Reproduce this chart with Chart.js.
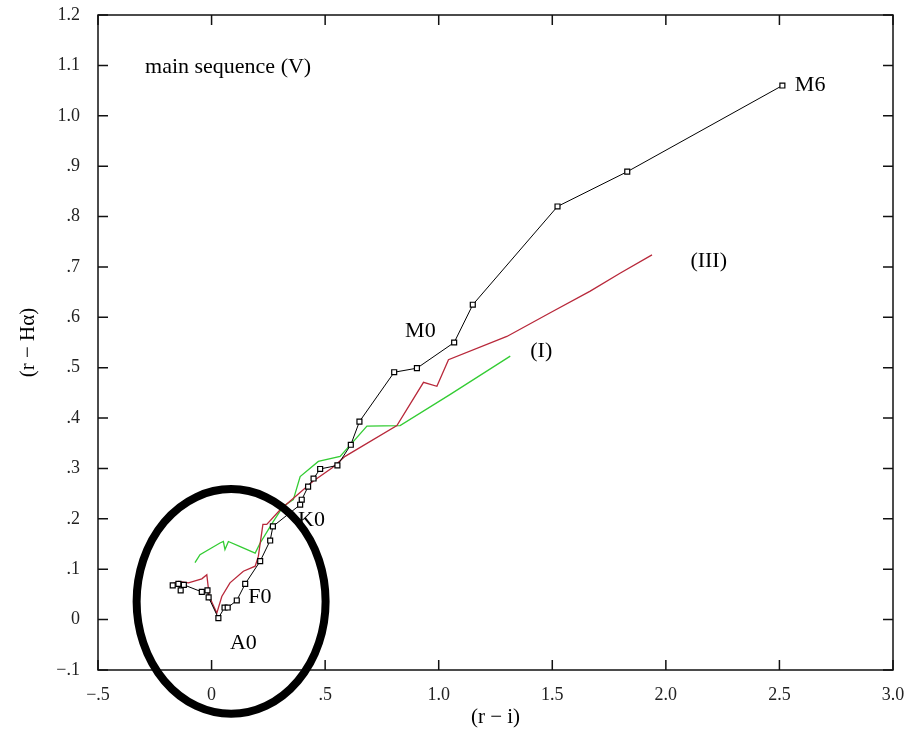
<html>
<head>
<meta charset="utf-8">
<script src="https://cdn.jsdelivr.net/npm/chart.js@4.4.1/dist/chart.umd.min.js"></script>
<title>main sequence (V)</title>
<style>
  body { margin: 0; background: #fff; }
  #wrap { width: 915px; height: 734px; }
</style>
</head>
<body>
<div id="wrap"><canvas id="chart" width="915" height="734"></canvas></div>
<script>
// main sequence (V), black with square markers
var msX = [-0.171, -0.146, -0.136, -0.122, -0.043, -0.018, -0.013, 0.030, 0.057, 0.071, 0.111, 0.148, 0.214, 0.258, 0.270, 0.390, 0.397, 0.425, 0.449, 0.478, 0.554, 0.613, 0.651, 0.804, 0.904, 1.068, 1.150, 1.523, 1.830, 2.513];
var msY = [0.068, 0.071, 0.058, 0.069, 0.055, 0.058, 0.044, 0.003, 0.024, 0.024, 0.038, 0.071, 0.116, 0.157, 0.185, 0.228, 0.238, 0.264, 0.280, 0.299, 0.306, 0.347, 0.393, 0.491, 0.499, 0.550, 0.625, 0.820, 0.889, 1.060];

// giants (III), red
var giX = [-0.183, -0.146, -0.102, -0.043, -0.021, -0.010, 0.023, 0.045, 0.081, 0.140, 0.192, 0.206, 0.226, 0.243, 0.302, 0.448, 0.530, 0.588, 0.816, 0.933, 0.992, 1.043, 1.300, 1.491, 1.667, 1.800, 1.939];
var giY = [0.069, 0.076, 0.073, 0.081, 0.089, 0.046, 0.013, 0.046, 0.073, 0.096, 0.106, 0.126, 0.189, 0.189, 0.218, 0.275, 0.301, 0.324, 0.385, 0.471, 0.463, 0.516, 0.562, 0.609, 0.652, 0.688, 0.724];

// supergiants (I), green
var sgX = [-0.073, -0.051, 0.037, 0.052, 0.059, 0.074, 0.126, 0.192, 0.214, 0.272, 0.316, 0.360, 0.390, 0.470, 0.566, 0.684, 0.830, 1.051, 1.315];
var sgY = [0.113, 0.129, 0.152, 0.155, 0.139, 0.155, 0.145, 0.132, 0.152, 0.195, 0.225, 0.238, 0.284, 0.314, 0.324, 0.384, 0.385, 0.447, 0.523];

var xTicks = [-0.5, 0, 0.5, 1.0, 1.5, 2.0, 2.5, 3.0];
var yTicks = [-0.1, 0, 0.1, 0.2, 0.3, 0.4, 0.5, 0.6, 0.7, 0.8, 0.9, 1.0, 1.1, 1.2];

var labelText = ['main sequence (V)', 'M6', '(III)', 'M0', '(I)', 'K0', 'F0', 'A0'];
var labelX = [-0.293, 2.568, 2.108, 0.852, 1.403, 0.381, 0.161, 0.081];
var labelY = [1.096, 1.060, 0.711, 0.572, 0.532, 0.198, 0.044, -0.046];

function pts(xs, ys) {
  return xs.map(function(x, i) { return { x: x, y: ys[i] }; });
}

function fmt(v) {
  var s = Math.abs(v) >= 1 ? Math.abs(v).toFixed(1) : (v == 0 ? '0' : Math.abs(v).toFixed(1).replace(/^0/, ''));
  return v < 0 ? '\u2212' + s : s;
}

var serif = '"Liberation Serif", "DejaVu Serif", serif';

// frame, inward ticks on all sides, ellipse and text labels
var decorate = {
  id: 'decorate',
  afterDraw: function(chart) {
    var ctx = chart.ctx, a = chart.chartArea;
    var xs = chart.scales.x, ys = chart.scales.y;
    ctx.save();
    ctx.strokeStyle = '#111';
    ctx.lineWidth = 1.5;
    ctx.strokeRect(a.left, a.top, a.right - a.left, a.bottom - a.top);
    ctx.beginPath();
    xTicks.forEach(function(t) {
      var p = xs.getPixelForValue(t);
      ctx.moveTo(p, a.bottom); ctx.lineTo(p, a.bottom - 10);
      ctx.moveTo(p, a.top); ctx.lineTo(p, a.top + 10);
    });
    yTicks.forEach(function(t) {
      var p = ys.getPixelForValue(t);
      ctx.moveTo(a.left, p); ctx.lineTo(a.left + 10, p);
      ctx.moveTo(a.right, p); ctx.lineTo(a.right - 10, p);
    });
    ctx.stroke();

    ctx.fillStyle = '#000';
    ctx.font = '22px ' + serif;
    ctx.textBaseline = 'middle';
    ctx.textAlign = 'left';
    labelText.forEach(function(t, i) {
      ctx.fillText(t, xs.getPixelForValue(labelX[i]), ys.getPixelForValue(labelY[i]));
    });

    // the hand-drawn circle around the A/F region
    var cx = xs.getPixelForValue(0.086), cy = ys.getPixelForValue(0.036);
    var rx = xs.getPixelForValue(0.086 + 0.416) - cx;
    var ry = cy - ys.getPixelForValue(0.036 + 0.223);
    ctx.beginPath();
    ctx.ellipse(cx, cy, rx, ry, 0, 0, Math.PI * 2);
    ctx.lineWidth = 8;
    ctx.strokeStyle = '#000';
    ctx.stroke();
    ctx.restore();
  }
};

var ctx = document.getElementById('chart').getContext('2d');
var chart = new Chart(ctx, {
  type: 'scatter',
  data: {
    datasets: [{
      label: 'V',
      data: pts(msX, msY),
      showLine: true,
      borderColor: '#000',
      borderWidth: 1,
      pointStyle: 'rect',
      pointRadius: 3.5,
      pointBackgroundColor: '#fff',
      pointBorderColor: '#000',
      pointBorderWidth: 1.2
    }, {
      label: 'III',
      data: pts(giX, giY),
      showLine: true,
      borderColor: '#b8283a',
      borderWidth: 1.3,
      pointRadius: 0
    }, {
      label: 'I',
      data: pts(sgX, sgY),
      showLine: true,
      borderColor: '#33cc33',
      borderWidth: 1.3,
      pointRadius: 0
    }]
  },
  options: {
    responsive: false,
    animation: false,
    layout: { padding: { top: 15, right: 22, left: 0, bottom: 0 } },
    plugins: {
      legend: { display: false },
      tooltip: { enabled: false }
    },
    scales: {
      x: {
        type: 'linear',
        min: -0.5, max: 3.0,
        afterBuildTicks: function(s) { s.ticks = xTicks.map(function(v) { return { value: v }; }); },
        afterFit: function(s) { s.height = 64; },
        grid: { display: false },
        border: { display: false },
        ticks: {
          callback: function(v) { return fmt(v); },
          color: '#222',
          font: { family: serif, size: 18 },
          padding: 6,
          maxRotation: 0
        },
        title: {
          display: true,
          text: '(r \u2212 i)',
          color: '#000',
          font: { family: serif, size: 21 },
          padding: { top: 2 }
        }
      },
      y: {
        type: 'linear',
        min: -0.1, max: 1.2,
        afterBuildTicks: function(s) { s.ticks = yTicks.map(function(v) { return { value: v }; }); },
        afterFit: function(s) { s.width = 98; s.paddingTop = 0; s.paddingBottom = 0; },
        grid: { display: false },
        border: { display: false },
        ticks: {
          callback: function(v) { return fmt(v); },
          color: '#222',
          font: { family: serif, size: 18 },
          padding: 10
        },
        title: {
          display: true,
          text: '(r \u2212 H\u03b1)',
          color: '#000',
          font: { family: serif, size: 21 },
          padding: { top: 16, bottom: 0 }
        }
      }
    }
  },
  plugins: [decorate]
});
</script>
</body>
</html>
